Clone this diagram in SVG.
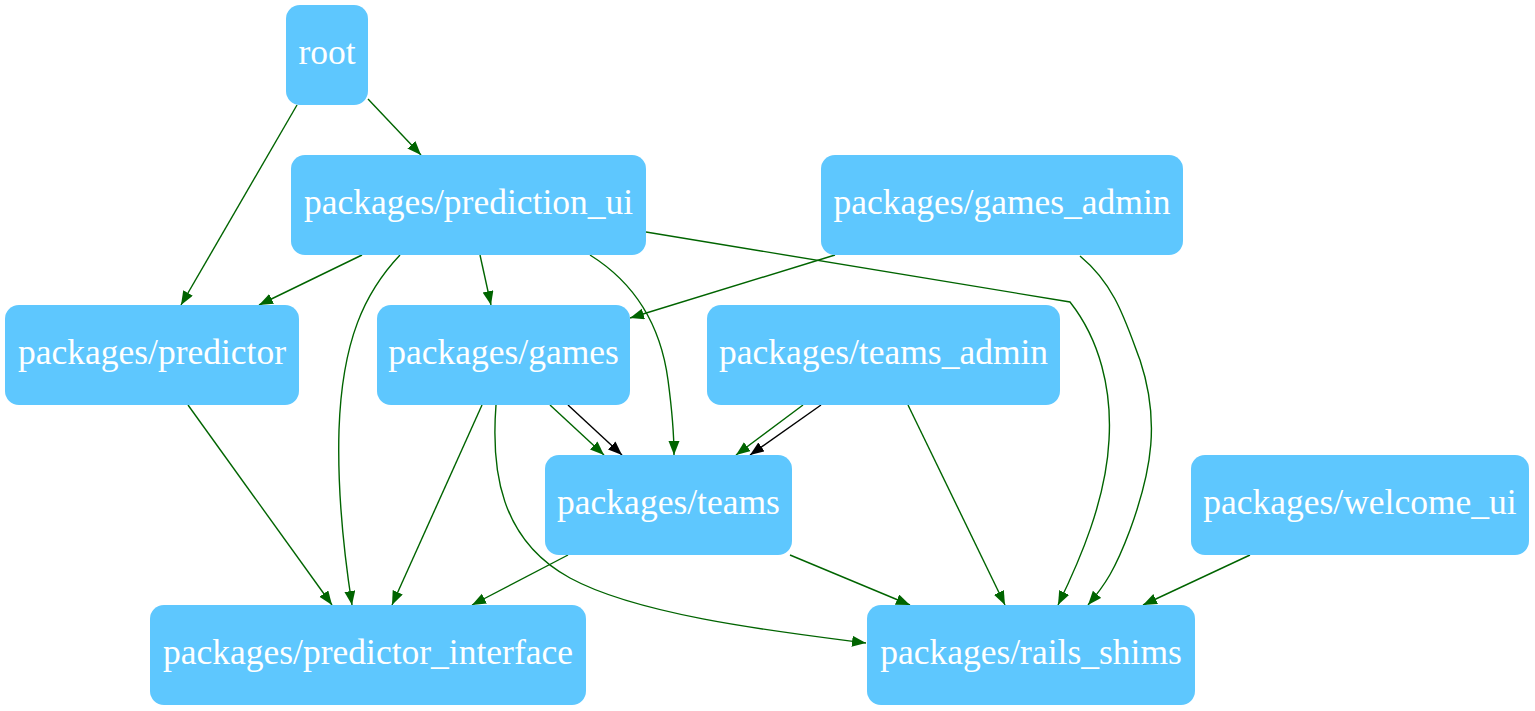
<svg xmlns="http://www.w3.org/2000/svg" width="1535" height="711" viewBox="0 0 1535 711">
<style>
.n rect{fill:#5ec7fe;stroke:none}
.n text{font-family:"Liberation Serif","Times New Roman",serif;font-size:35.5px;fill:#ffffff;text-anchor:middle}
.e path{fill:none;stroke:#006400;stroke-width:1.4}
.e path.k{stroke:#000000}
</style>
<defs>
<marker id="ag" markerUnits="userSpaceOnUse" markerWidth="16" markerHeight="12" refX="14" refY="5.5" orient="auto"><path d="M0,0 L14,5.5 L0,11 z" fill="#006400"/></marker>
<marker id="ak" markerUnits="userSpaceOnUse" markerWidth="16" markerHeight="12" refX="14" refY="5.5" orient="auto"><path d="M0,0 L14,5.5 L0,11 z" fill="#000000"/></marker>
</defs>
<rect width="1535" height="711" fill="#ffffff"/>
<g id="edges" class="e">
<path d="M297,105 L181,305" marker-end="url(#ag)"/>
<path d="M368,99 L421,155" marker-end="url(#ag)"/>
<path d="M362,255 L259,305" marker-end="url(#ag)"/>
<path d="M400,255 C365,292 342,340 339,430 C337,500 345,560 352,605" marker-end="url(#ag)"/>
<path d="M480,255 L491,305" marker-end="url(#ag)"/>
<path d="M590,255 C630,280 660,320 668,380 C672,410 674,430 674,455" marker-end="url(#ag)"/>
<path d="M646,232 L1070,302 C1100,340 1112,390 1109,440 C1106,500 1080,560 1058,605" marker-end="url(#ag)"/>
<path d="M835,255 L630,318" marker-end="url(#ag)"/>
<path d="M1080,256 C1115,285 1125,320 1140,360 C1160,420 1152,470 1130,530 C1115,570 1105,585 1088,605" marker-end="url(#ag)"/>
<path d="M550,405 L604,455" marker-end="url(#ag)"/>
<path class="k" d="M568,405 L622,455" marker-end="url(#ak)"/>
<path d="M482,405 L392,605" marker-end="url(#ag)"/>
<path d="M496,405 C491,470 500,540 570,578 S780,632 866,643" marker-end="url(#ag)"/>
<path d="M803,405 L736,455" marker-end="url(#ag)"/>
<path class="k" d="M821,405 L750,455" marker-end="url(#ak)"/>
<path d="M908,405 L1005,605" marker-end="url(#ag)"/>
<path d="M568,555 L472,605" marker-end="url(#ag)"/>
<path d="M790,555 L910,605" marker-end="url(#ag)"/>
<path d="M1250,555 L1143,605" marker-end="url(#ag)"/>
<path d="M188,405 L332,605" marker-end="url(#ag)"/>
</g>
<g id="root" class="n"><rect x="286" y="5" width="82" height="100" rx="14"/><text x="327" y="64">root</text></g>
<g id="prediction_ui" class="n"><rect x="291" y="155" width="355" height="100" rx="14"/><text x="468.5" y="214">packages/prediction_ui</text></g>
<g id="games_admin" class="n"><rect x="821" y="155" width="362" height="100" rx="14"/><text x="1002" y="214">packages/games_admin</text></g>
<g id="predictor" class="n"><rect x="5" y="305" width="294" height="100" rx="14"/><text x="152" y="364">packages/predictor</text></g>
<g id="games" class="n"><rect x="377" y="305" width="253" height="100" rx="14"/><text x="503.5" y="364">packages/games</text></g>
<g id="teams_admin" class="n"><rect x="707" y="305" width="353" height="100" rx="14"/><text x="883.5" y="364">packages/teams_admin</text></g>
<g id="teams" class="n"><rect x="545" y="455" width="247" height="100" rx="14"/><text x="668.5" y="514">packages/teams</text></g>
<g id="welcome_ui" class="n"><rect x="1191" y="455" width="338" height="100" rx="14"/><text x="1360" y="514">packages/welcome_ui</text></g>
<g id="predictor_interface" class="n"><rect x="150" y="605" width="436" height="100" rx="14"/><text x="368" y="664">packages/predictor_interface</text></g>
<g id="rails_shims" class="n"><rect x="867" y="605" width="328" height="100" rx="14"/><text x="1031" y="664">packages/rails_shims</text></g>
</svg>
